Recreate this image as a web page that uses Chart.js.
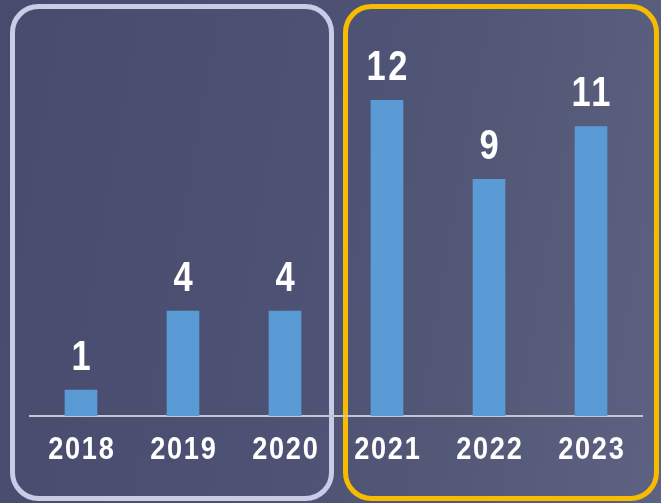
<!DOCTYPE html>
<html>
<head>
<meta charset="utf-8">
<script src="https://cdn.jsdelivr.net/npm/chart.js@4/dist/chart.umd.min.js"></script>
<style>
  html, body { margin: 0; padding: 0; }
  body {
    width: 661px; height: 503px; overflow: hidden;
    background: linear-gradient(100deg, #474b6e 0%, #4d5174 45%, #535877 70%, #5d6282 100%);
  }
  #wrap { position: relative; width: 661px; height: 503px; }
  canvas { position: absolute; left: 0; top: 0; }
</style>
</head>
<body>
<div id="wrap"><canvas id="chart" width="661" height="503"></canvas></div>
<script>
const years = ["2018", "2019", "2020", "2021", "2022", "2023"];
const counts = [1, 4, 4, 12, 9, 11];

const FONT = "'Liberation Sans', Arial, sans-serif";

// draw text squeezed horizontally (the original uses a narrow face)
function narrowText(ctx, text, x, y, size, squeeze, spacing) {
  ctx.save();
  ctx.translate(x, y);
  ctx.scale(squeeze, 1);
  ctx.font = "bold " + size + "px " + FONT;
  ctx.letterSpacing = spacing + "px";
  ctx.fillText(text, spacing / 2, 0);
  ctx.restore();
}

// two rounded frames behind the bars
const framesPlugin = {
  id: "frames",
  beforeDraw(chart) {
    const ctx = chart.ctx;
    ctx.save();
    ctx.lineWidth = 5;
    ctx.strokeStyle = "#c9cce6";
    ctx.beginPath();
    ctx.roundRect(12.5, 6.5, 319, 492, 26);
    ctx.stroke();
    ctx.strokeStyle = "#f7bc00";
    ctx.beginPath();
    ctx.roundRect(345.5, 6.5, 311, 492, 26);
    ctx.stroke();
    ctx.restore();
  }
};

// value labels above bars and year labels under the axis
const labelsPlugin = {
  id: "labels",
  afterDatasetsDraw(chart) {
    const ctx = chart.ctx;
    const meta = chart.getDatasetMeta(0);
    const xScale = chart.scales.x;
    ctx.save();
    ctx.fillStyle = "#ffffff";
    ctx.textAlign = "center";
    ctx.textBaseline = "alphabetic";
    meta.data.forEach((bar, i) => {
      narrowText(ctx, String(counts[i]), bar.x, bar.y - 20, 42, 0.82, 3);
    });
    years.forEach((yr, i) => {
      narrowText(ctx, yr, xScale.getPixelForTick(i), chart.chartArea.bottom + 43, 32, 0.85, 2);
    });
    ctx.restore();
  }
};

new Chart(document.getElementById("chart"), {
  type: "bar",
  data: {
    labels: years,
    datasets: [{
      data: counts,
      backgroundColor: "#5b9bd5",
      categoryPercentage: 1,
      barPercentage: 0.32
    }]
  },
  options: {
    responsive: false,
    animation: false,
    layout: { padding: { left: 30, right: 19, top: 21, bottom: 87 } },
    plugins: { legend: { display: false }, tooltip: { enabled: false } },
    scales: {
      x: {
        grid: { display: false, drawTicks: false },
        border: { display: true, color: "#c4c6d2", width: 2 },
        ticks: { display: false }
      },
      y: {
        display: false,
        min: 0,
        max: 15
      }
    }
  },
  plugins: [framesPlugin, labelsPlugin]
});
</script>
</body>
</html>
